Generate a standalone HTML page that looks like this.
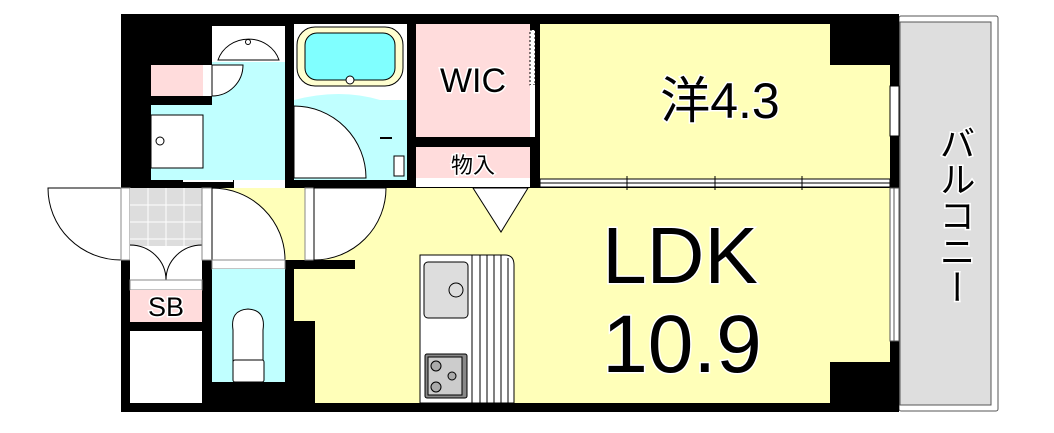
<!DOCTYPE html>
<html><head><meta charset="utf-8"><style>
html,body{margin:0;padding:0;background:#fff;width:1054px;height:433px;overflow:hidden}
svg{display:block}
text{font-family:"Liberation Sans","Noto Sans CJK JP",sans-serif;fill:#000;stroke:#fff;stroke-width:3px;paint-order:stroke}
</style></head><body>
<svg width="1054" height="433" viewBox="0 0 1054 433" xmlns="http://www.w3.org/2000/svg">
<!-- balcony -->
<rect x="899" y="16" width="99" height="395" rx="2" fill="#fff" stroke="#555" stroke-width="1"/>
<rect x="900" y="22" width="91" height="383" fill="#dedede" stroke="#555" stroke-width="1"/>
<!-- main black base -->
<rect x="121" y="14" width="778" height="398" fill="#000"/>
<!-- LDK yellow -->
<rect x="294" y="188" width="596" height="215" fill="#ffffb9"/>
<rect x="212" y="188" width="82" height="72" fill="#ffffb9"/>
<rect x="294" y="321" width="21" height="82" fill="#000"/>
<rect x="294" y="260" width="61" height="9" fill="#000"/>
<rect x="830" y="362" width="60" height="41" fill="#000"/>
<!-- Western room -->
<rect x="540" y="24" width="350" height="155" fill="#ffffb9"/>
<rect x="830" y="24" width="60" height="41" fill="#000"/>
<!-- divider sliding doors -->
<rect x="540" y="179" width="350" height="8" fill="#fff" stroke="#000" stroke-width="1"/>
<line x1="540" y1="183" x2="890" y2="183" stroke="#000" stroke-width="1"/>
<line x1="627" y1="176" x2="627" y2="190" stroke="#000"/>
<line x1="715" y1="176" x2="715" y2="190" stroke="#000"/>
<line x1="802" y1="176" x2="802" y2="190" stroke="#000"/>
<!-- right windows -->
<rect x="890" y="86" width="9" height="50" fill="#fff" stroke="#000"/>
<rect x="890" y="188" width="9" height="153" fill="#fff" stroke="#555"/>
<line x1="894" y1="188" x2="894" y2="341" stroke="#555"/>
<!-- WIC / storage -->
<rect x="416" y="24" width="114" height="113" fill="#ffdcdc"/>
<rect x="416" y="147" width="114" height="31" fill="#ffdcdc"/>
<rect x="416" y="178" width="114" height="9" fill="#fff"/>
<rect x="530" y="30" width="5" height="55" fill="#fff" stroke="#000" stroke-dasharray="2,2"/>
<rect x="530" y="85" width="5" height="52" fill="#fff"/>
<!-- triangle -->
<polygon points="473,188 528,188 501,232" fill="#fff" stroke="#000"/>
<!-- washroom -->
<rect x="212" y="26" width="73" height="36" fill="#fff"/>
<path d="M218,60 A32,30 0 0 1 279,60 Z" fill="#fff" stroke="#000"/>
<circle cx="248" cy="42" r="2.5" fill="#fff" stroke="#000"/>
<rect x="212" y="62" width="73" height="43" fill="#c0ffff"/>
<rect x="151" y="105" width="134" height="75" fill="#c0ffff"/>
<rect x="151" y="65" width="52" height="31" fill="#ffdcdc"/>
<rect x="203" y="65" width="9" height="31" fill="#fff"/>
<path d="M212,65 L243,65 A31,31 0 0 1 212,96 Z" fill="#fff" stroke="#000"/>
<rect x="151" y="115" width="52" height="53" fill="#fff" stroke="#000"/>
<circle cx="160" cy="141" r="4" fill="#fff" stroke="#000"/>
<rect x="183" y="180" width="50" height="2" fill="#fff"/>
<rect x="234" y="180" width="51" height="8" fill="#fff"/>
<!-- bath -->
<rect x="294" y="24" width="113" height="76" fill="#fff"/>
<rect x="297" y="27" width="106" height="59" rx="18" fill="#ffffd0" stroke="#000"/>
<rect x="305" y="33" width="90" height="47" rx="12" fill="#80ffff" stroke="#000"/>
<circle cx="350" cy="80" r="4" fill="#fff" stroke="#000"/>
<rect x="294" y="100" width="113" height="80" fill="#c0ffff"/>
<path d="M294,100 Q340,88 380,100 L400,100 L400,180 L294,180 Z" fill="#c0ffff"/>
<path d="M294,106 L294,178 L366,178 A72,72 0 0 0 294,106 Z" fill="#fff" stroke="#000"/>
<rect x="394" y="156" width="10" height="20" fill="#fff" stroke="#000"/>
<line x1="380" y1="138" x2="392" y2="138" stroke="#000" stroke-width="2"/>
<!-- left door outside -->
<path d="M121,188 L48,188 A73,72 0 0 0 121,260 Z" fill="#fff" stroke="#000"/>
<rect x="121" y="188" width="9" height="72" fill="#fff" stroke="#888"/>
<!-- shoe box -->
<rect x="130" y="188" width="72" height="58" fill="#ddd"/>
<g stroke="#fff" stroke-width="1">
<line x1="148" y1="188" x2="148" y2="246"/><line x1="166" y1="188" x2="166" y2="246"/><line x1="184" y1="188" x2="184" y2="246"/>
<line x1="130" y1="205" x2="202" y2="205"/><line x1="130" y1="222" x2="202" y2="222"/><line x1="130" y1="239" x2="202" y2="239"/>
</g>
<rect x="130" y="246" width="72" height="44" fill="#fff"/>
<path d="M130,245 A36,35 0 0 1 166,280 M202,245 A36,35 0 0 0 166,280" fill="none" stroke="#000"/>
<rect x="130" y="280" width="72" height="10" fill="#fff" stroke="#888"/>
<rect x="130" y="290" width="72" height="32" fill="#ffdcdc"/>
<rect x="130" y="331" width="72" height="72" fill="#fff"/>
<rect x="202" y="188" width="10" height="72" fill="#fff" stroke="#888"/>
<!-- toilet -->
<path d="M212,188 A73,72 0 0 1 285,260 L212,260 Z" fill="#fff" stroke="#000"/>
<rect x="212" y="260" width="73" height="9" fill="#fff" stroke="#888"/>
<rect x="212" y="269" width="73" height="113" fill="#c0ffff"/>
<path d="M233,362 L233,330 Q230,310 248,309 Q266,310 263,330 L263,362 Z" fill="#fff" stroke="#000"/>
<rect x="233" y="360" width="31" height="22" rx="2" fill="#fff" stroke="#000"/>
<!-- LDK door -->
<rect x="305" y="188" width="9" height="72" fill="#fff" stroke="#888"/>
<path d="M314,188 L386,188 A72,72 0 0 1 314,260 Z" fill="#fff" stroke="#000"/>
<!-- kitchen -->
<path d="M420,255 L505,255 Q514,255 514,265 L514,403 L420,403 Z" fill="#fff" stroke="#000"/>
<g stroke="#000"><line x1="472" y1="255" x2="472" y2="403"/><line x1="480" y1="255" x2="480" y2="403"/><line x1="487" y1="255" x2="487" y2="403"/><line x1="494" y1="255" x2="494" y2="403"/><line x1="501" y1="255" x2="501" y2="403"/><line x1="508" y1="258" x2="508" y2="403"/></g>
<rect x="424" y="262" width="44" height="56" rx="4" fill="#ddd" stroke="#000"/>
<circle cx="456" cy="290" r="7" fill="#ddd" stroke="#000"/>
<rect x="425" y="354" width="42" height="44" rx="2" fill="#888" stroke="#000"/>
<rect x="428" y="357" width="34" height="38" fill="#ccc" stroke="#000"/>
<circle cx="436" cy="366" r="5" fill="#aaa" stroke="#000"/><circle cx="436" cy="387" r="5" fill="#aaa" stroke="#000"/><circle cx="452" cy="376" r="4" fill="#aaa" stroke="#000"/>
<!-- labels -->
<text x="473" y="92" font-size="34" text-anchor="middle">WIC</text>
<text x="473" y="173" font-size="22" text-anchor="middle">物入</text>
<text x="166" y="316" font-size="27" text-anchor="middle">SB</text>
<text x="720" y="118" font-size="50" text-anchor="middle">洋4.3</text>
<text x="680" y="283" font-size="80" text-anchor="middle">LDK</text>
<text x="682" y="372" font-size="82" text-anchor="middle">10.9</text>
<text font-size="36" text-anchor="middle" x="955" y="215" style="writing-mode:vertical-rl">バルコニー</text>
</svg>
</body></html>
